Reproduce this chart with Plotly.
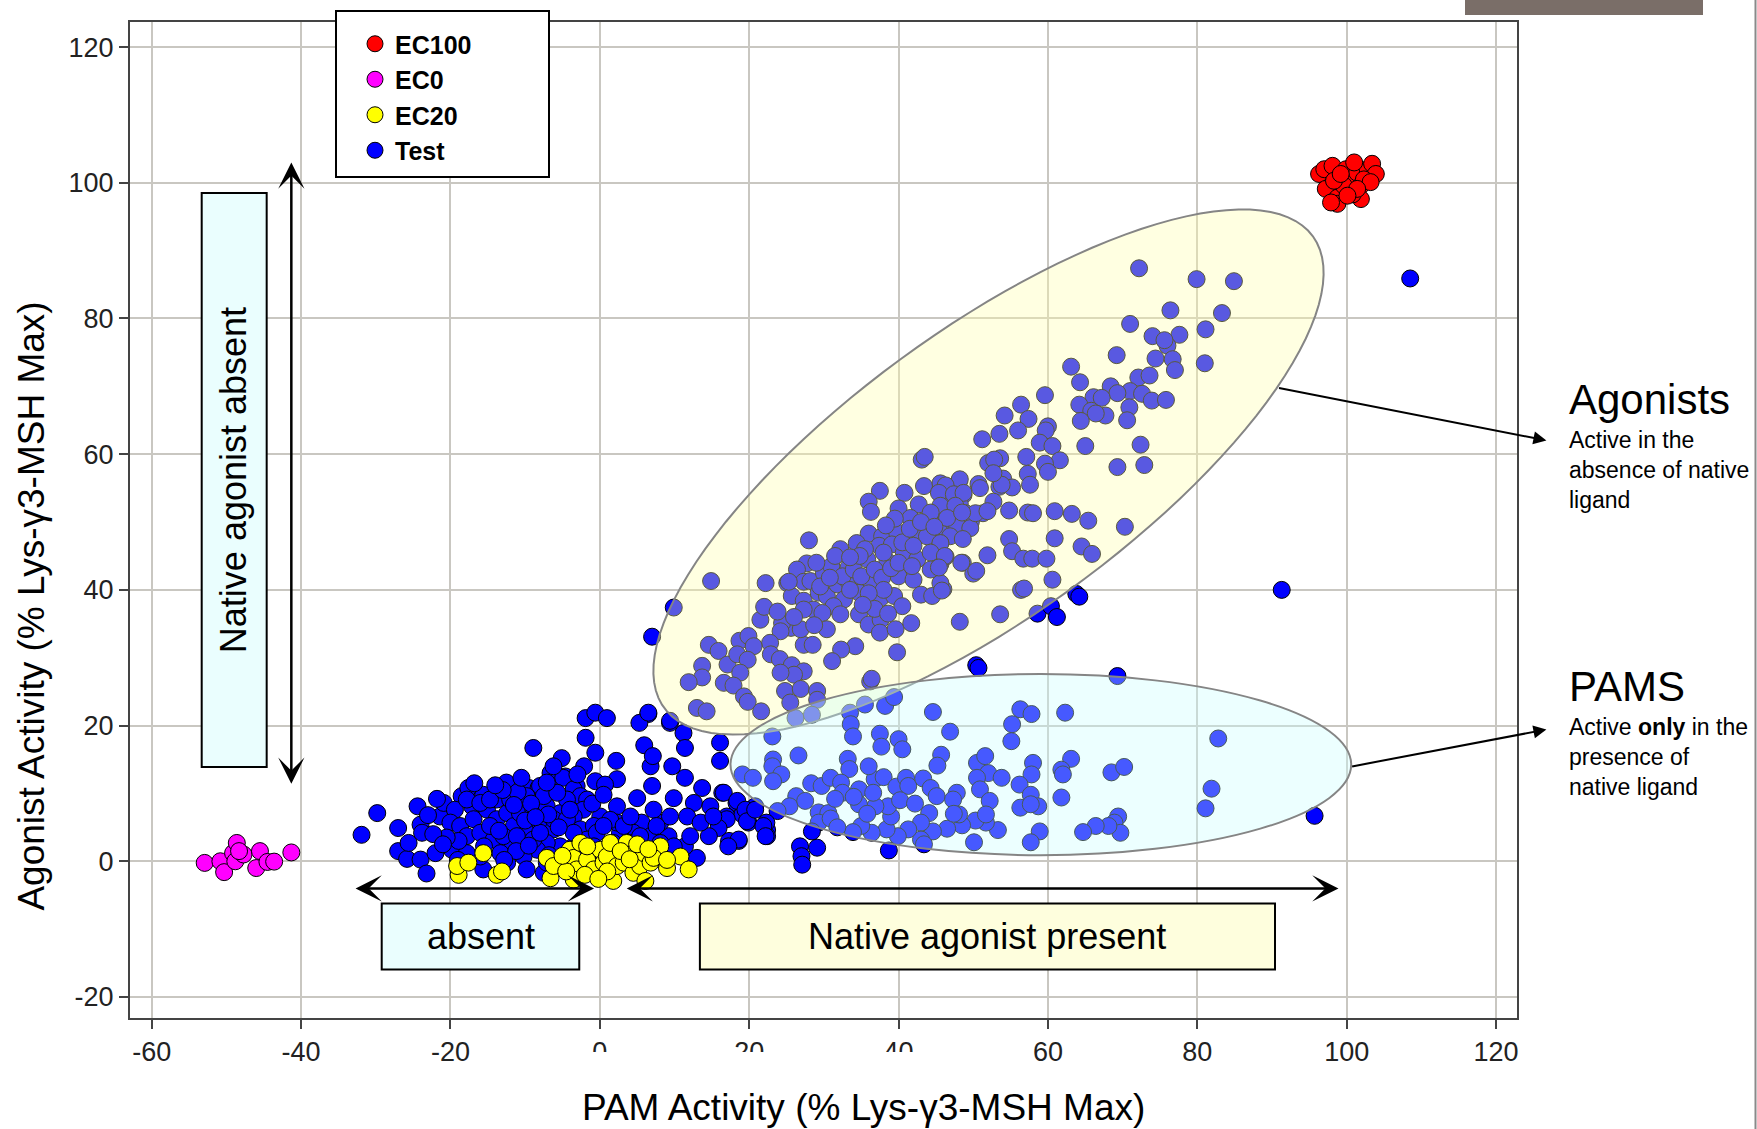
import numpy as np
import plotly.graph_objects as go

# ---------------- data ----------------
ec100_points = [(96.3, 101.3), (97.0, 102.0), (98.1, 102.5), (97.2, 99.1), (98.75, 97.8), (98.75, 96.9),
                (99.9, 102.0), (100.5, 100.5), (101.4, 101.5), (101.9, 99.6), (102.8, 102.0), (103.4, 102.8),
                (103.9, 101.3), (101.9, 97.6), (100.8, 98.3), (99.6, 99.6), (98.3, 100.3), (101.0, 103.0),
                (102.3, 100.5), (103.2, 100.1), (99.2, 101.3), (97.9, 97.1), (101.4, 99.1), (100.1, 98.1)]

ec0_points = [(-52.9, -0.24), (-50.8, 0.0), (-50.3, -1.6), (-49.1, 1.2), (-48.6, 2.7), (-48.8, 0.0),
              (-47.7, 1.0), (-48.3, 1.5), (-45.5, 1.5), (-46.0, -1.0), (-44.5, -0.1), (-43.6, -0.05), (-41.3, 1.3)]

ec20_points = [(-18.9, -2.0), (-19.1, -0.7), (-17.6, -0.2), (-15.6, 1.2), (-13.8, -2.0), (-13.1, -1.5),
               (-7.1, 0.5), (-6.6, -2.5), (-6.2, -0.7), (-4.0, 1.7), (-3.5, 0.5), (-3.1, -1.2), (-2.6, 2.7),
               (-1.7, 0.25), (-0.8, -1.2), (0.06, 1.7), (0.5, -0.2), (0.95, 0.7), (1.8, -2.9), (2.3, -0.7),
               (3.2, -0.2), (3.6, 2.7), (4.5, 1.2), (4.5, -1.7), (5.4, -0.7), (5.9, 1.2), (6.1, -2.9),
               (6.8, -0.2), (8.1, 2.2), (9.0, -1.0), (10.8, 0.7), (11.9, -1.2), (-1.7, 2.2), (1.4, 2.7),
               (-3.5, -2.7), (-4.5, -1.5), (-2.0, -2.0), (2.8, 1.5), (1.0, -1.5), (-5.0, 0.8), (7.2, 0.5),
               (4.0, 0.3), (-0.2, -2.6), (5.0, 2.5), (6.5, 1.8), (9.0, 0.2)]

test_points = [
    # agonist band, upper part
    (72.2, 87.4), (79.9, 85.8), (84.9, 85.5), (76.4, 81.2), (83.3, 80.8), (71.0, 79.2), (81.1, 78.4),
    (74.0, 77.4), (77.6, 77.6), (76.0, 76.0), (75.6, 76.8), (69.2, 74.6), (74.4, 74.1), (76.7, 74.0),
    (77.0, 72.4), (81.0, 73.4), (63.1, 72.9), (64.3, 70.6), (72.1, 71.3), (73.6, 71.6), (68.4, 70.0),
    (71.0, 69.3), (72.6, 68.9), (69.3, 69.0), (73.9, 67.9), (75.8, 68.0), (59.6, 68.7), (66.1, 68.4),
    (67.2, 68.3), (64.2, 67.3), (65.8, 66.4), (67.7, 65.7), (66.4, 66.0), (64.4, 64.9), (70.9, 66.9),
    (70.6, 65.0), (56.4, 67.3), (54.2, 65.7), (57.4, 65.2), (56.0, 63.5), (53.5, 63.0), (51.2, 62.2),
    (60.0, 64.1), (59.7, 63.5), (58.9, 61.7), (60.6, 61.2), (65.0, 61.2), (72.4, 61.4), (57.1, 59.6),
    (61.6, 59.1), (52.0, 58.7), (53.6, 59.4), (52.8, 59.2), (59.6, 58.6), (60.0, 57.4), (69.3, 58.1),
    (72.9, 58.4), (57.3, 57.1), (57.6, 55.5), (48.1, 56.0), (50.7, 55.6), (50.9, 55.0), (54.0, 56.4),
    (55.2, 55.1), (53.5, 55.2), (48.7, 54.0), (52.7, 53.0), (51.3, 51.3), (54.8, 51.7), (57.3, 51.4),
    (58.0, 51.3), (60.9, 51.6), (63.2, 51.2), (65.4, 50.2), (70.3, 49.3), (49.7, 50.1), (47.4, 48.9),
    (54.8, 47.5), (60.9, 47.6), (64.5, 46.4), (65.9, 45.3), (55.2, 45.7), (56.7, 44.6), (57.9, 44.6),
    (59.8, 44.6), (51.9, 45.1), (48.6, 44.0), (50.0, 42.4), (50.4, 42.8), (60.6, 41.5), (56.4, 40.0),
    (46.0, 40.1), (45.6, 43.8), (45.6, 55.7), (46.5, 55.2), (46.0, 54.2), (47.4, 54.2), (46.7, 52.7),
    (48.2, 52.7), (45.6, 51.8), (47.2, 51.3), (49.0, 51.3), (46.3, 50.1), (47.8, 49.6), (49.6, 49.1),
    (45.6, 48.4), (46.9, 47.9), (45.6, 46.9), (46.3, 44.9), (45.6, 41.0), (50.3, 51.3), (51.9, 51.6),
    (53.8, 55.5), (52.7, 57.2), (53.6, 36.4), (56.8, 40.2), (58.6, 36.5), (60.4, 37.6),
    (63.8, 39.4), (64.2, 39.0), (61.2, 36.0), (91.3, 40.0), (108.5, 85.9),
    # agonist band, lower part
    (43.1, 59.2), (43.5, 59.6), (37.5, 54.6), (36.0, 53.0), (36.3, 51.5), (40.8, 54.3), (43.4, 55.3),
    (40.0, 52.0), (42.7, 52.6), (48.2, 56.3), (46.3, 55.4), (45.4, 54.3), (47.4, 54.1), (48.7, 54.3),
    (45.6, 52.4), (47.6, 52.4), (44.3, 51.4), (41.6, 50.6), (46.5, 50.6), (48.5, 51.4), (36.0, 48.3),
    (34.4, 46.9), (37.8, 47.9), (39.8, 48.5), (42.5, 48.2), (43.8, 47.9), (45.6, 46.9), (48.6, 47.5),
    (37.4, 46.5), (39.1, 46.7), (40.7, 45.5), (42.5, 44.5), (44.3, 45.5), (46.2, 45.0), (48.4, 44.0),
    (32.2, 46.0), (28.0, 47.3), (33.3, 43.3), (35.8, 44.5), (38.5, 44.2), (40.0, 42.0), (42.0, 41.5),
    (44.3, 43.0), (45.4, 43.3), (43.0, 39.3), (44.5, 39.1), (45.8, 39.9), (27.7, 43.9), (26.4, 43.0),
    (27.3, 41.2), (28.2, 41.3), (25.1, 41.0), (25.7, 39.1), (27.3, 38.4), (29.3, 39.6), (30.4, 39.1),
    (31.8, 40.8), (33.1, 41.5), (34.4, 41.0), (36.2, 41.3), (37.6, 38.8), (39.4, 39.1), (40.5, 37.6),
    (34.7, 39.6), (32.7, 38.6), (31.3, 37.6), (28.6, 37.1), (27.3, 37.1), (29.8, 36.6), (32.2, 36.4),
    (34.7, 36.4), (36.0, 34.9), (37.6, 35.6), (37.5, 33.7), (39.6, 34.2), (41.7, 35.1), (48.2, 35.3),
    (39.8, 30.8), (34.2, 31.7), (32.3, 31.2), (31.1, 29.5), (30.4, 34.2), (27.3, 31.9), (28.5, 31.9),
    (25.6, 34.4), (26.9, 34.2), (24.4, 35.1), (24.2, 33.9), (22.8, 32.2), (22.9, 30.5), (24.1, 29.8),
    (25.7, 28.9), (27.3, 28.0), (26.0, 27.5), (24.2, 27.8), (21.5, 35.6), (22.0, 37.5), (22.2, 41.0),
    (25.3, 41.2), (14.9, 41.3), (9.9, 37.4), (7.0, 33.1), (14.6, 31.9), (15.9, 31.0), (13.7, 28.8),
    (13.7, 27.1), (11.9, 26.4), (17.1, 29.0), (18.7, 32.5), (19.9, 33.2), (20.6, 31.7), (18.4, 30.5),
    (19.8, 29.7), (18.8, 27.8), (16.6, 26.3), (17.9, 25.9), (19.3, 24.3), (19.8, 23.5), (13.0, 22.6),
    (14.3, 22.1), (21.6, 22.1), (24.8, 25.1), (25.5, 23.4), (26.9, 25.4), (29.1, 25.1), (29.1, 23.8),
    (36.2, 26.5), (36.4, 26.9), (6.5, 21.7), (9.4, 20.4),
    (30.0, 42.5), (31.0, 43.5), (32.5, 42.0), (29.5, 40.5), (30.8, 41.8), (34.0, 43.0), (35.0, 42.0),
    (36.8, 43.0), (37.8, 41.8), (39.0, 43.2), (38.0, 40.0), (36.0, 39.5), (33.5, 40.0), (29.0, 44.0),
    (31.5, 45.0), (35.5, 46.0), (38.0, 45.5), (40.5, 47.0), (41.5, 49.0), (43.0, 50.0), (44.8, 49.3),
    (42.0, 46.5), (40.0, 44.0), (41.8, 43.5), (39.5, 50.5), (38.3, 49.5), (34.8, 45.0), (33.5, 44.8),
    (36.8, 37.2), (35.2, 37.8), (38.6, 36.5), (26.0, 36.0), (23.8, 36.8), (28.7, 34.8),
    # PAM band
    (44.6, 22.0), (56.3, 22.4), (57.8, 21.7), (62.3, 21.9), (55.2, 20.2), (55.1, 17.7), (46.9, 19.1),
    (82.8, 18.1), (38.2, 22.9), (39.4, 24.2), (35.5, 23.1), (33.5, 21.9), (33.6, 20.2), (33.9, 18.4),
    (37.5, 18.8), (37.7, 16.9), (40.0, 18.0), (40.5, 16.5), (23.1, 18.4), (26.6, 15.6), (33.2, 15.1),
    (33.4, 13.6), (45.7, 15.7), (45.2, 14.1), (23.2, 15.0), (23.1, 14.0), (24.3, 12.8), (23.2, 11.8),
    (19.1, 12.8), (20.5, 12.3), (28.3, 11.5), (29.7, 11.1), (30.9, 12.3), (32.3, 11.6), (32.5, 10.1),
    (34.7, 10.6), (36.8, 12.1), (38.0, 12.4), (39.7, 11.0), (41.0, 12.3), (41.3, 11.1), (43.3, 12.2),
    (44.3, 10.8), (45.1, 9.6), (50.5, 14.5), (51.6, 15.5), (52.0, 13.0), (50.5, 12.3), (53.8, 12.3),
    (50.9, 10.6), (52.2, 8.9), (47.8, 10.1), (47.3, 9.1), (58.0, 14.5), (57.8, 12.8), (56.2, 11.3),
    (57.7, 9.8), (58.7, 8.1), (56.3, 7.9), (57.7, 8.4), (63.1, 15.1), (61.8, 13.5), (62.0, 12.8),
    (61.8, 9.4), (68.5, 13.1), (70.2, 13.9), (81.9, 10.7), (81.1, 7.8), (69.4, 6.6), (68.9, 5.7),
    (69.7, 4.2), (68.1, 5.2), (66.4, 5.2), (64.7, 4.3), (58.9, 4.4), (57.7, 2.8), (53.3, 4.6),
    (50.1, 2.8), (51.7, 5.7), (50.3, 6.0), (48.5, 5.3), (48.1, 6.9), (46.5, 4.8), (44.6, 4.4),
    (44.1, 7.1), (43.0, 5.7), (43.0, 3.2), (41.3, 4.7), (39.9, 3.7), (38.4, 4.7), (39.0, 6.6),
    (38.6, 8.1), (36.9, 8.1), (34.7, 8.4), (36.6, 10.1), (36.4, 4.2), (35.0, 5.2), (33.9, 4.3),
    (29.3, 7.2), (30.6, 7.1), (29.3, 5.7), (30.9, 6.3), (26.3, 9.6), (25.4, 8.1), (23.8, 7.4),
    (51.7, 6.9), (47.4, 7.0), (26.2, 21.1), (28.4, 21.6), (34.0, 9.5), (35.8, 7.0), (40.2, 9.0),
    (42.2, 8.5), (31.5, 9.2), (27.5, 8.9), (36.0, 14.0), (31.8, 5.0),
    (50.4, 28.9), (50.7, 28.5), (69.3, 27.3), (95.7, 6.7), (38.7, 1.6), (43.4, 2.5), (26.8, 2.2),
    (27.0, 0.75), (27.1, -0.5), (29.1, 2.0), (28.4, 4.4), (22.4, 4.6), (22.4, 3.7), (22.3, 5.7),
    (19.9, 5.7), (18.3, 8.6), (17.0, 6.6), (17.3, 3.0), (18.6, 3.0), (16.1, 17.5), (16.1, 14.8),
    (16.4, 10.1), (19.1, 6.9), (20.8, 8.1),
    # inactive cluster
    (-31.9, 3.9), (-29.8, 7.1), (-27.0, 4.9), (-27.0, 1.5), (-25.8, 0.35), (-25.6, 2.7), (-24.0, 0.25),
    (-23.2, -1.8), (-24.4, 8.1), (-24.0, 5.4), (-23.8, 4.2), (-22.0, 1.2), (-21.4, 6.6), (-20.9, 8.6),
    (-19.8, 1.7), (-18.5, 9.6), (-17.4, 10.6), (-16.0, 9.6), (-12.5, 11.6), (-8.9, 16.7), (-5.1, 15.2),
    (-1.9, 21.1), (-0.6, 21.9), (0.95, 21.1), (-1.9, 18.2), (-0.6, 16.0), (-2.1, 14.0), (2.2, 14.8),
    (2.3, 12.1), (-0.6, 11.8), (0.7, 11.3), (-6.5, 12.8), (-4.6, 12.5), (-9.5, 10.8), (-8.2, 10.8),
    (-6.2, 11.3), (-3.1, 11.1), (2.3, 8.1), (5.0, 9.3), (7.0, 11.1), (6.8, 14.0), (5.95, 17.1),
    (7.1, 15.5), (5.3, 20.4), (6.5, 21.9), (9.4, 20.7), (11.2, 18.9), (11.4, 16.7), (9.7, 14.0),
    (11.4, 12.3), (13.7, 10.8), (9.9, 9.3), (12.6, 8.6), (14.8, 8.1), (16.6, 10.1), (18.4, 8.9),
    (19.5, 7.6), (17.0, 6.2), (15.9, 4.9), (14.6, 3.7), (18.6, 3.2), (17.2, 2.2), (19.7, 5.9),
    (21.9, 5.2), (22.2, 3.7), (20.8, 7.6), (13.0, 0.5), (11.4, 2.2), (12.1, 3.7), (9.2, 3.7),
    (8.1, 5.7), (7.2, 7.6), (9.4, 6.6), (11.7, 6.6), (13.5, 5.7), (15.2, 6.6), (5.6, 5.7), (4.5, 4.2),
    (2.7, 4.2), (2.3, 5.7), (0.06, 6.6), (1.4, 6.1), (4.1, 2.7), (6.8, 3.7), (8.1, 2.7), (9.9, 2.2),
    (-17.6, 10.8), (-15.6, 9.8), (-10.4, 9.1), (-8.0, 11.1), (-6.6, 13.0), (-4.9, 12.3), (-3.5, 10.6),
    (-2.6, 9.6), (-1.7, 9.1), (-2.2, 7.6), (-19.4, 7.6), (-20.0, 5.7), (-18.7, 5.2), (-17.1, 8.1),
    (-16.9, 6.2), (-17.8, 3.7), (-16.0, 4.2), (-15.1, 7.6), (-13.8, 9.1), (-13.8, 6.2), (-14.2, 3.2),
    (-12.4, 7.1), (-11.5, 5.2), (-12.0, 2.7), (-10.7, 7.1), (-9.8, 4.2), (-8.9, 7.6), (-8.0, 5.7),
    (-7.1, 8.1), (-6.2, 4.7), (-5.3, 7.1), (-4.4, 9.1), (-3.5, 6.6), (-2.6, 4.7), (-0.8, 5.2),
    (-1.7, 3.2), (-3.5, 2.2), (-5.3, 2.2), (-7.1, 2.7), (-8.4, 1.7), (-10.2, 0.7), (-9.8, -1.2),
    (-7.5, -1.7), (-7.1, -0.2), (-5.3, 0.25), (-4.0, -0.7), (-15.6, -1.2), (-16.0, 0.7), (-17.8, 1.2),
    (-13.3, 1.2), (-12.4, -0.2), (-14.7, 5.2), (-12.9, 3.7), (-11.1, 3.7), (-8.9, 3.2), (-8.0, 4.2),
    (-6.2, 6.2), (-4.4, 6.2), (-3.5, 4.2), (-17.8, 9.1), (-16.0, 8.6), (-14.7, 9.1), (-12.0, 9.1),
    (-9.8, 9.6), (-7.5, 9.6), (-5.7, 10.1), (-4.0, 7.6), (-7.1, 11.6), (-6.2, 14.0), (-0.4, 4.2),
    (0.5, 5.2), (1.8, 2.7), (3.2, 5.2), (4.1, 6.6), (5.4, 3.7), (7.6, 5.2), (1.8, 0.7), (3.2, 1.7),
    (-0.8, 2.2), (0.5, 1.2), (-11.0, 10.2), (-13.0, 10.5), (-10.0, 6.0), (-11.5, 8.3), (-9.2, 8.5),
    (-13.5, 4.5), (-15.5, 2.2), (-18.9, 3.0), (-20.5, 3.5), (-22.3, 4.0), (-21.0, 2.5), (-19.0, 0.2),
    (-11.2, 1.5), (-9.5, 2.3), (-6.8, 0.9), (-2.3, 0.8), (-1.0, -0.5), (-2.9, -1.8), (-21.8, 9.2),
    (-23.0, 6.8), (-10.5, 12.3), (-3.0, 12.8), (-1.0, 8.5), (0.5, 9.8), (-5.5, 5.0), (-6.9, 6.9),
    (-8.6, 6.5), (-14.0, 11.2), (-16.8, 11.5), (-12.8, 0.2),
]

x_ticks = [-60, -40, -20, 0, 20, 40, 60, 80, 100, 120]
x_tick_text = ['-60', '-40', '-20', '0', '20', '40', '60', '80', '100', '120']
y_ticks = [-20, 0, 20, 40, 60, 80, 100, 120]
y_tick_text = ['-20', '0', '20', '40', '60', '80', '100', '120']

# ---------------- layout geometry ----------------
W, H = 1757, 1129
M = dict(l=130, r=240, t=22, b=111)
X_RANGE = [-62.9, 122.8]
Y_RANGE = [-23.1, 123.7]
PW = W - M['l'] - M['r']
PH = H - M['t'] - M['b']
PX_X = PW / (X_RANGE[1] - X_RANGE[0])
PX_Y = PH / (Y_RANGE[1] - Y_RANGE[0])


def paper(px, py):
    return (px - M['l']) / PW, (H - M['b'] - py) / PH


FONT = 'Liberation Sans, Arial, Helvetica, sans-serif'

fig = go.Figure()


def add_series(points, name, color, rank):
    xs, ys = zip(*points)
    fig.add_trace(go.Scatter(
        x=list(xs), y=list(ys), mode='markers', name='<b>%s</b>' % name, legendrank=rank,
        marker=dict(size=17, color=color, line=dict(color='black', width=1))))


add_series(test_points, 'Test', '#0000ff', 4)
add_series(ec20_points, 'EC20', '#ffff00', 3)
add_series(ec0_points, 'EC0', '#ff00ff', 2)
add_series(ec100_points, 'EC100', '#ff0000', 1)

shapes = []

# agonist ellipse (rotated), defined in pixels then mapped to data units
ell_c = (52.04, 57.37)
ell_a, ell_b, ell_ang = 401.0, 143.0, np.deg2rad(36.0)
t = np.linspace(0, 2 * np.pi, 120)
ex = ell_c[0] + (ell_a * np.cos(t) * np.cos(ell_ang) - ell_b * np.sin(t) * np.sin(ell_ang)) / PX_X
ey = ell_c[1] + (ell_a * np.cos(t) * np.sin(ell_ang) + ell_b * np.sin(t) * np.cos(ell_ang)) / PX_Y
path = 'M ' + ' L '.join('%.3f,%.3f' % (a, b) for a, b in zip(ex, ey)) + ' Z'
shapes.append(dict(type='path', xref='x', yref='y', path=path, layer='above',
                   fillcolor='rgba(255,255,170,0.35)', line=dict(color='#858585', width=2)))
# PAM ellipse
shapes.append(dict(type='circle', xref='x', yref='y', x0=17.5, x1=100.6, y0=0.9, y1=27.6, layer='above',
                   fillcolor='rgba(200,255,255,0.35)', line=dict(color='#858585', width=2)))

# label boxes
CYAN_BOX = '#eafefe'
YEL_BOX = '#fefedd'
shapes.append(dict(type='rect', xref='x', yref='y', x0=-53.3, x1=-44.6, y0=13.9, y1=98.5, layer='above',
                   fillcolor=CYAN_BOX, line=dict(color='black', width=2)))
shapes.append(dict(type='rect', xref='x', yref='y', x0=-29.2, x1=-2.75, y0=-15.97, y1=-6.24, layer='above',
                   fillcolor=CYAN_BOX, line=dict(color='black', width=2)))
shapes.append(dict(type='rect', xref='x', yref='y', x0=13.4, x1=90.4, y0=-15.97, y1=-6.24, layer='above',
                   fillcolor=YEL_BOX, line=dict(color='black', width=2)))

# legend box
lx0, ly1 = paper(336, 11)
lx1, ly0 = paper(549, 177)
shapes.append(dict(type='rect', xref='paper', yref='paper', x0=lx0, x1=lx1, y0=ly0, y1=ly1, layer='above',
                   fillcolor='white', line=dict(color='black', width=2)))

# white patch that hides the lower half of some x tick labels, as in the original
wx0, wy0 = paper(583, 1076)
wx1, wy1 = paper(919, 1052)
shapes.append(dict(type='rect', xref='paper', yref='paper', x0=wx0, x1=wx1, y0=wy0, y1=wy1, layer='above',
                   fillcolor='white', line=dict(width=0)))

# decorative top-right tab and right edge line
gx0, gy0 = paper(1465, 15)
gx1, gy1 = paper(1703, -5)
shapes.append(dict(type='rect', xref='paper', yref='paper', x0=gx0, x1=gx1, y0=gy0, y1=gy1, layer='above',
                   fillcolor='#7a6e68', line=dict(width=0)))
rx, _ = paper(1755.5, 0)
shapes.append(dict(type='line', xref='paper', yref='paper', x0=rx, x1=rx, y0=paper(0, 1129)[1],
                   y1=paper(0, 0)[1], line=dict(color='#8a8a8a', width=2)))

annotations = []
box_font = dict(family=FONT, size=36, color='black')
annotations.append(dict(x=-48.95, y=56.2, xref='x', yref='y', text='Native agonist absent', textangle=-90,
                        showarrow=False, font=box_font, xanchor='center', yanchor='middle'))
annotations.append(dict(x=-15.97, y=-11.1, xref='x', yref='y', text='absent', showarrow=False, font=box_font,
                        xanchor='center', yanchor='middle'))
annotations.append(dict(x=51.9, y=-11.1, xref='x', yref='y', text='Native agonist present', showarrow=False,
                        font=box_font, xanchor='center', yanchor='middle'))


def double_arrow(x0, y0, x1, y1):
    return dict(x=x1, y=y1, ax=x0, ay=y0, xref='x', yref='y', axref='x', ayref='y', text='',
                showarrow=True, arrowside='end+start', arrowhead=3, startarrowhead=3,
                arrowsize=1.75, startarrowsize=1.75, arrowwidth=2.5, arrowcolor='black',
                standoff=0, startstandoff=0)


annotations.append(double_arrow(-41.3, 11.2, -41.3, 103.0))
annotations.append(double_arrow(-32.9, -4.0, -0.77, -4.0))
annotations.append(double_arrow(3.4, -4.0, 98.9, -4.0))


def callout(tail_px, head_px):
    hx, hy = paper(*head_px)
    return dict(x=hx, y=hy, xref='paper', yref='paper', ax=tail_px[0] - head_px[0],
                ay=tail_px[1] - head_px[1], axref='pixel', ayref='pixel', text='', showarrow=True,
                arrowhead=2, arrowsize=1.3, arrowwidth=2, arrowcolor='black', standoff=0)


annotations.append(callout((1277.5, 387.7), (1546.4, 440.4)))
annotations.append(callout((1350.6, 766.7), (1546.4, 729.5)))

tx, _ = paper(1566.6, 0)
annotations.append(dict(x=tx, y=paper(0, 399)[1], xref='paper', yref='paper', text='Agonists',
                        showarrow=False, xanchor='left', yanchor='middle',
                        font=dict(family=FONT, size=42, color='black')))
annotations.append(dict(x=tx, y=paper(0, 469.5)[1], xref='paper', yref='paper',
                        text='Active in the<br>absence of native<br>ligand', align='left',
                        showarrow=False, xanchor='left', yanchor='middle',
                        font=dict(family=FONT, size=23, color='black')))
annotations.append(dict(x=tx, y=paper(0, 686)[1], xref='paper', yref='paper', text='PAMS',
                        showarrow=False, xanchor='left', yanchor='middle',
                        font=dict(family=FONT, size=42, color='black')))
annotations.append(dict(x=tx, y=paper(0, 756.5)[1], xref='paper', yref='paper',
                        text='Active <b>only</b> in the<br>presence of<br>native ligand', align='left',
                        showarrow=False, xanchor='left', yanchor='middle',
                        font=dict(family=FONT, size=23, color='black')))

# axis titles
ytx, yty = paper(32, 606.6)
annotations.append(dict(x=ytx, y=yty, xref='paper', yref='paper', text='Agonist Activity (% Lys-γ3-MSH Max)',
                        textangle=-90, showarrow=False, xanchor='center', yanchor='middle',
                        font=dict(family=FONT, size=37, color='black')))
xtx, xty = paper(863, 1107)
annotations.append(dict(x=xtx, y=xty, xref='paper', yref='paper', text='PAM Activity (% Lys-γ3-MSH Max)',
                        showarrow=False, xanchor='center', yanchor='middle',
                        font=dict(family=FONT, size=37, color='black')))

axis_common = dict(showgrid=True, gridcolor='#c9c7c1', gridwidth=1.5, zeroline=False, showline=True,
                   linecolor='#444444', linewidth=2, mirror=True, ticks='outside', ticklen=9,
                   tickwidth=1.5, tickcolor='#444444',
                   tickfont=dict(family=FONT, size=27, color='#222222'))

fig.update_layout(
    width=W, height=H, margin=M, paper_bgcolor='white', plot_bgcolor='white',
    xaxis=dict(range=X_RANGE, tickvals=x_ticks, ticktext=x_tick_text, **axis_common),
    yaxis=dict(range=Y_RANGE, tickvals=y_ticks, ticktext=y_tick_text, **axis_common),
    showlegend=True,
    legend=dict(x=paper(355, 0)[0], y=paper(0, 21)[1], xanchor='left', yanchor='top',
                bgcolor='rgba(0,0,0,0)', borderwidth=0, tracegroupgap=0,
                font=dict(family=FONT, size=25, color='black')),
    shapes=shapes, annotations=annotations,
)

fig.write_html('out.html')
